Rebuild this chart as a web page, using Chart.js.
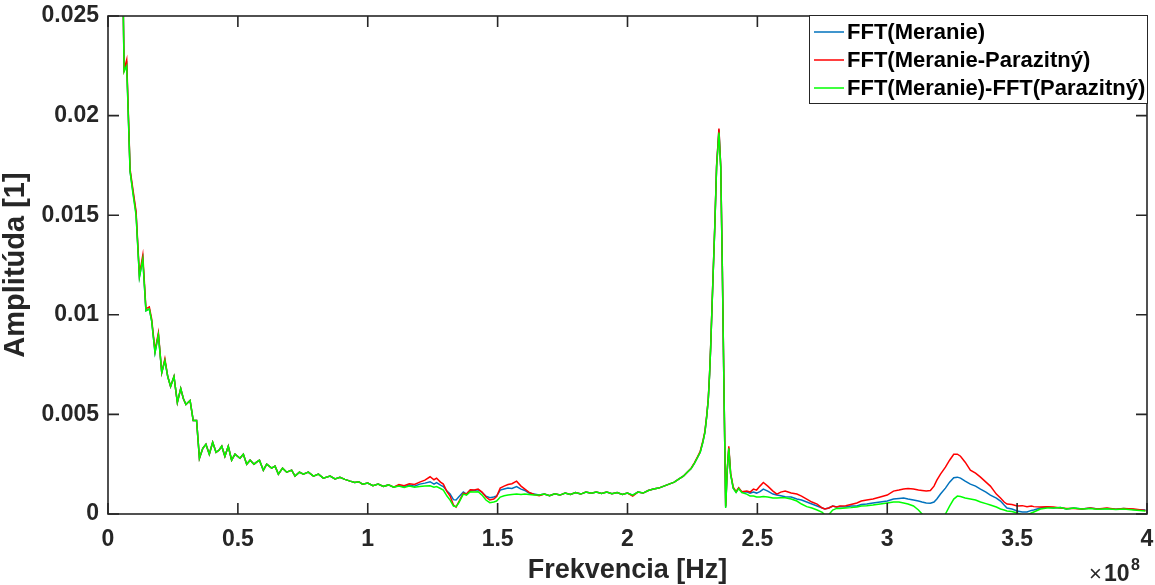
<!DOCTYPE html>
<html>
<head>
<meta charset="utf-8">
<script src="https://cdn.jsdelivr.net/npm/chart.js@4.4.1/dist/chart.umd.min.js"></script>
<style>
  body { margin: 0; background: #fff; }
  #wrap { width: 1155px; height: 585px; }
</style>
</head>
<body>
<div id="wrap"><canvas id="fftChart" width="1155" height="585"></canvas></div>
<script>
// frequency axis, in units of 10^8 Hz
const freq = [
  0.057,0.062,0.072,0.085,0.097,0.108,0.121,0.134,0.146,0.159,
  0.168,0.181,0.194,0.207,0.219,0.230,0.241,0.254,0.267,0.280,
  0.290,0.300,0.316,0.328,0.341,0.352,0.365,0.377,0.390,0.403,
  0.416,0.427,0.438,0.450,0.463,0.476,0.489,0.508,0.521,0.534,
  0.547,0.562,0.572,0.583,0.598,0.611,0.630,0.643,0.656,0.672,
  0.688,0.707,0.720,0.737,0.752,0.771,0.791,0.810,0.829,0.855,
  0.874,0.893,0.912,0.932,0.950,0.965,0.980,1.000,1.020,1.040,
  1.060,1.080,1.100,1.120,1.140,1.160,1.180,1.200,1.220,1.240,
  1.255,1.265,1.280,1.291,1.305,1.317,1.330,1.340,1.350,1.368,
  1.380,1.395,1.410,1.425,1.440,1.455,1.470,1.485,1.496,1.510,
  1.525,1.540,1.555,1.573,1.590,1.605,1.620,1.640,1.660,1.680,
  1.700,1.720,1.740,1.760,1.780,1.800,1.820,1.840,1.860,1.880,
  1.900,1.920,1.940,1.960,1.980,2.000,2.020,2.040,2.060,2.080,
  2.100,2.120,2.140,2.160,2.180,2.200,2.215,2.230,2.245,2.258,
  2.270,2.280,2.290,2.298,2.305,2.311,2.316,2.320,2.328,2.336,
  2.343,2.352,2.359,2.365,2.372,2.378,2.384,2.390,2.397,2.407,
  2.418,2.428,2.440,2.459,2.472,2.485,2.497,2.510,2.523,2.540,
  2.560,2.575,2.590,2.607,2.630,2.652,2.670,2.690,2.710,2.730,
  2.750,2.760,2.775,2.790,2.805,2.818,2.840,2.860,2.883,2.900,
  2.921,2.945,2.973,3.000,3.024,3.045,3.063,3.080,3.101,3.120,
  3.134,3.150,3.166,3.180,3.191,3.205,3.224,3.240,3.256,3.270,
  3.282,3.300,3.320,3.340,3.359,3.380,3.397,3.420,3.436,3.450,
  3.461,3.480,3.500,3.520,3.538,3.555,3.564,3.590,3.615,3.640,
  3.667,3.690,3.718,3.750,3.782,3.810,3.846,3.880,3.910,3.950,
  3.994
];

// FFT(Meranie)
const fftMeranie = [
  .0270,.0223,.0226,.0172,.0161,.0151,.0119,.0128,.0102,.0103,
  .0097,.0081,.0090,.0071,.0077,.0069,.0064,.0069,.0056,.0063,
  .0058,.0055,.0057,.0047,.0047,.0028,.0033,.0035,.0030,.0036,
  .0031,.0032,.0034,.0029,.0034,.0027,.0030,.0028,.0030,.0025,
  .0027,.0025,.0026,.0027,.0022,.0025,.0023,.0024,.0020,.0023,
  .0021,.0022,.0019,.0021,.0020,.0021,.0019,.0020,.0018,.0019,
  .00176,.00184,.00174,.00165,.00158,.00162,.00150,.00155,.00142,.00150,
  .00138,.00146,.00135,.00143,.00136,.00145,.00140,.00150,.00155,.00162,
  .00150,.00158,.00145,.00138,.00115,.00100,.00072,.00070,.00085,.00110,
  .00100,.00120,.00118,.00122,.00108,.00090,.00082,.00085,.00090,.00120,
  .00125,.00130,.00128,.00138,.00125,.00118,.00105,.00100,.00095,.00100,
  .00092,.00102,.00095,.00105,.00098,.00108,.00100,.00110,.00104,.00110,
  .00103,.00110,.00102,.00108,.00098,.00105,.00095,.00110,.00105,.00118,
  .00125,.00130,.00140,.00150,.00160,.00178,.00190,.00210,.00228,.00255,
  .00285,.00310,.00360,.00410,.00490,.00575,.00700,.00830,.01140,.01440,
  .01745,.01930,.01740,.01240,.00570,.00035,.00220,.00330,.00200,.00130,
  .00110,.00130,.00110,.00112,.00105,.00110,.00105,.00112,.00125,.00115,
  .00100,.00095,.00092,.00087,.00085,.00075,.00070,.00060,.00050,.00040,
  .00030,.00025,.00030,.00040,.00035,.00038,.00035,.00040,.00040,.00048,
  .00050,.00055,.00060,.00065,.00075,.00078,.00080,.00075,.00070,.00065,
  .00060,.00055,.00054,.00060,.00075,.00100,.00130,.00160,.00182,.00185,
  .00180,.00165,.00150,.00140,.00125,.00110,.00095,.00080,.00065,.00045,
  .00030,.00025,.00015,.00010,.00010,.00018,.00020,.00030,.00035,.00030,
  .00033,.00025,.00030,.00025,.00030,.00025,.00028,.00024,.00027,.00022,
  .00020
];

// FFT(Meranie-Parazitný)
const fftRozdiel = [
  .0270,.0223,.0228,.0173,.0162,.0152,.0120,.0130,.0103,.0104,
  .0098,.0082,.0091,.0071,.0078,.0069,.0064,.0069,.0056,.0063,
  .0058,.0055,.0057,.0047,.0047,.0028,.0033,.0035,.0030,.0036,
  .0031,.0032,.0034,.0029,.0034,.0027,.0030,.0028,.0030,.0025,
  .0027,.0025,.0026,.0027,.0022,.0025,.0023,.0024,.0020,.0023,
  .0021,.0022,.0019,.0021,.0020,.0021,.0019,.0020,.0018,.0019,
  .00176,.00184,.00174,.00165,.00158,.00162,.00150,.00155,.00142,.00150,
  .00138,.00146,.00135,.00148,.00142,.00152,.00148,.00160,.00170,.00187,
  .00172,.00180,.00160,.00150,.00112,.00090,.00045,.00035,.00060,.00105,
  .00100,.00122,.00120,.00125,.00110,.00085,.00070,.00075,.00088,.00130,
  .00140,.00148,.00152,.00165,.00140,.00125,.00110,.00098,.00092,.00100,
  .00092,.00102,.00095,.00105,.00098,.00108,.00100,.00110,.00104,.00110,
  .00103,.00110,.00102,.00108,.00098,.00105,.00090,.00110,.00105,.00118,
  .00125,.00130,.00140,.00150,.00160,.00178,.00190,.00210,.00230,.00258,
  .00288,.00315,.00365,.00415,.00495,.00580,.00705,.00835,.01145,.01445,
  .01750,.01935,.01745,.01245,.00575,.00040,.00225,.00340,.00205,.00135,
  .00112,.00132,.00112,.00115,.00110,.00125,.00120,.00140,.00158,.00140,
  .00115,.00100,.00110,.00115,.00105,.00100,.00090,.00075,.00060,.00050,
  .00030,.00025,.00030,.00040,.00035,.00040,.00042,.00048,.00055,.00065,
  .00070,.00075,.00085,.00095,.00115,.00120,.00125,.00128,.00125,.00120,
  .00118,.00115,.00118,.00140,.00170,.00200,.00235,.00270,.00300,.00300,
  .00290,.00260,.00220,.00205,.00185,.00160,.00140,.00100,.00080,.00060,
  .00050,.00048,.00040,.00042,.00037,.00040,.00037,.00035,.00037,.00035,
  .00030,.00028,.00028,.00025,.00030,.00025,.00030,.00024,.00027,.00025,
  .00018
];

// FFT(Meranie)-FFT(Parazitný)
const fftOdcitane = [
  .0270,.0222,.0225,.0172,.0160,.0150,.0119,.0128,.0102,.0103,
  .0097,.0081,.0090,.0071,.0077,.0069,.0064,.0069,.0056,.0063,
  .0058,.0055,.0057,.0047,.0047,.0028,.0033,.0035,.0030,.0036,
  .0031,.0032,.0034,.0029,.0034,.0027,.0030,.0028,.0030,.0025,
  .0027,.0025,.0026,.0027,.0022,.0025,.0023,.0024,.0020,.0023,
  .0021,.0022,.0019,.0021,.0020,.0021,.0019,.0020,.0018,.0019,
  .00176,.00184,.00174,.00165,.00158,.00162,.00150,.00155,.00142,.00150,
  .00138,.00146,.00135,.00140,.00133,.00140,.00134,.00138,.00140,.00142,
  .00135,.00138,.00128,.00120,.00090,.00070,.00040,.00037,.00055,.00100,
  .00095,.00112,.00110,.00112,.00095,.00070,.00057,.00060,.00065,.00085,
  .00092,.00095,.00098,.00100,.00098,.00100,.00098,.00095,.00095,.00100,
  .00092,.00102,.00095,.00105,.00098,.00108,.00100,.00110,.00104,.00110,
  .00103,.00110,.00102,.00108,.00098,.00105,.00095,.00110,.00105,.00118,
  .00125,.00130,.00140,.00150,.00160,.00178,.00190,.00210,.00228,.00255,
  .00285,.00310,.00360,.00410,.00490,.00575,.00700,.00830,.01140,.01440,
  .01740,.01915,.01740,.01240,.00570,.00030,.00220,.00330,.00200,.00130,
  .00108,.00128,.00108,.00100,.00090,.00090,.00085,.00085,.00088,.00085,
  .00080,.00080,.00082,.00082,.00075,.00065,.00050,.00037,.00030,.00020,
  .00008,-.00005,-.00003,.00020,.00028,.00028,.00030,.00032,.00035,.00040,
  .00042,.00045,.00050,.00055,.00060,.00060,.00055,.00050,.00040,.00020,
  .00000,-.00030,-.00060,-.00070,-.00060,-.00040,.00000,.00040,.00075,.00090,
  .00088,.00080,.00075,.00070,.00060,.00052,.00045,.00035,.00025,.00020,
  .00015,.00012,.00005,-.00005,-.00005,.00005,.00010,.00025,.00030,.00030,
  .00032,.00025,.00030,.00025,.00028,.00024,.00026,.00022,.00025,.00020,
  .00015
];

const seriesLabels = ['FFT(Meranie)', 'FFT(Meranie-Parazitný)', 'FFT(Meranie)-FFT(Parazitný)'];
const seriesColors = ['#0072bd', '#ff0000', '#00ff00'];

const axisColor = '#262626';
const fontFamily = '"Liberation Sans", Arial, Helvetica, sans-serif';

const toPoints = vals => freq.map((f, i) => ({ x: f, y: vals[i] }));
const cleanNum = v => String(parseFloat(v.toFixed(4)));

// MATLAB-style box, inward ticks, legend and x10^8 exponent
const matlabAxes = {
  id: 'matlabAxes',
  afterDatasetsDraw(chart) {
    const { ctx, chartArea: a, scales: { x, y } } = chart;
    ctx.save();
    ctx.strokeStyle = axisColor;
    ctx.lineWidth = 1.6;
    ctx.strokeRect(a.left, a.top, a.right - a.left, a.bottom - a.top);
    ctx.beginPath();
    const tl = 11;
    x.ticks.forEach(t => {
      const px = x.getPixelForValue(t.value);
      ctx.moveTo(px, a.bottom); ctx.lineTo(px, a.bottom - tl);
      ctx.moveTo(px, a.top); ctx.lineTo(px, a.top + tl);
    });
    y.ticks.forEach(t => {
      const py = y.getPixelForValue(t.value);
      ctx.moveTo(a.left, py); ctx.lineTo(a.left + tl, py);
      ctx.moveTo(a.right, py); ctx.lineTo(a.right - tl, py);
    });
    ctx.stroke();

    // legend box
    const lw = 338, lh = 88;
    const lx = a.right - lw, ly = a.top - 1;
    ctx.fillStyle = '#fff';
    ctx.fillRect(lx, ly, lw, lh);
    ctx.strokeStyle = axisColor;
    ctx.lineWidth = 1;
    ctx.strokeRect(lx + 0.5, ly + 0.5, lw, lh);
    ctx.font = 'bold 22px ' + fontFamily;
    ctx.textBaseline = 'middle';
    ctx.textAlign = 'left';
    chart.data.datasets.forEach((ds, i) => {
      const ry = ly + 17 + i * 28;
      ctx.strokeStyle = ds.borderColor;
      ctx.lineWidth = 1.5;
      ctx.beginPath();
      ctx.moveTo(lx + 5, ry); ctx.lineTo(lx + 35, ry);
      ctx.stroke();
      ctx.fillStyle = '#000';
      ctx.fillText(ds.label, lx + 38, ry + 1);
    });

    // exponent label
    ctx.fillStyle = axisColor;
    ctx.textBaseline = 'alphabetic';
    ctx.font = '22px ' + fontFamily;
    ctx.fillText('\u00d7', 1089, 581);
    ctx.font = 'bold 23px ' + fontFamily;
    ctx.fillText('10', 1104, 581);
    ctx.font = 'bold 16px ' + fontFamily;
    ctx.fillText('8', 1131, 570);
    ctx.restore();
  }
};

const ctx = document.getElementById('fftChart').getContext('2d');
const fftChart = new Chart(ctx, {
  type: 'line',
  data: {
    datasets: [
      { label: seriesLabels[0], data: toPoints(fftMeranie), borderColor: seriesColors[0], order: 3 },
      { label: seriesLabels[1], data: toPoints(fftRozdiel), borderColor: seriesColors[1], order: 2 },
      { label: seriesLabels[2], data: toPoints(fftOdcitane), borderColor: seriesColors[2], order: 1 }
    ]
  },
  options: {
    responsive: false,
    animation: false,
    events: [],
    elements: {
      point: { radius: 0 },
      line: { borderWidth: 1.5, tension: 0, fill: false }
    },
    layout: { padding: { top: 16, right: 8, left: 0, bottom: 0 } },
    plugins: {
      legend: { display: false },
      tooltip: { enabled: false }
    },
    scales: {
      x: {
        type: 'linear',
        min: 0,
        max: 4,
        grid: { display: false, drawTicks: false },
        border: { display: false },
        ticks: {
          stepSize: 0.5,
          padding: 12,
          color: axisColor,
          font: { family: fontFamily, size: 23, weight: 'bold' },
          maxRotation: 0,
          autoSkip: false,
          callback: v => cleanNum(v)
        },
        title: {
          display: true,
          text: 'Frekvencia [Hz]',
          color: axisColor,
          font: { family: fontFamily, size: 27, weight: 'bold', lineHeight: 1 },
          padding: { top: 0, bottom: 1 }
        },
        afterFit: s => { s.height = 71; s.paddingLeft = 0; s.paddingRight = 0; }
      },
      y: {
        min: 0,
        max: 0.025,
        grid: { display: false, drawTicks: false },
        border: { display: false },
        ticks: {
          stepSize: 0.005,
          padding: 9,
          color: axisColor,
          font: { family: fontFamily, size: 23, weight: 'bold' },
          autoSkip: false,
          callback: v => cleanNum(v)
        },
        title: {
          display: true,
          text: 'Amplitúda [1]',
          color: axisColor,
          font: { family: fontFamily, size: 29, weight: 'bold', lineHeight: 1 },
          padding: { top: 1, bottom: 0 }
        },
        afterFit: s => { s.width = 108; s.paddingTop = 0; s.paddingBottom = 0; }
      }
    }
  },
  plugins: [matlabAxes]
});
</script>
</body>
</html>
